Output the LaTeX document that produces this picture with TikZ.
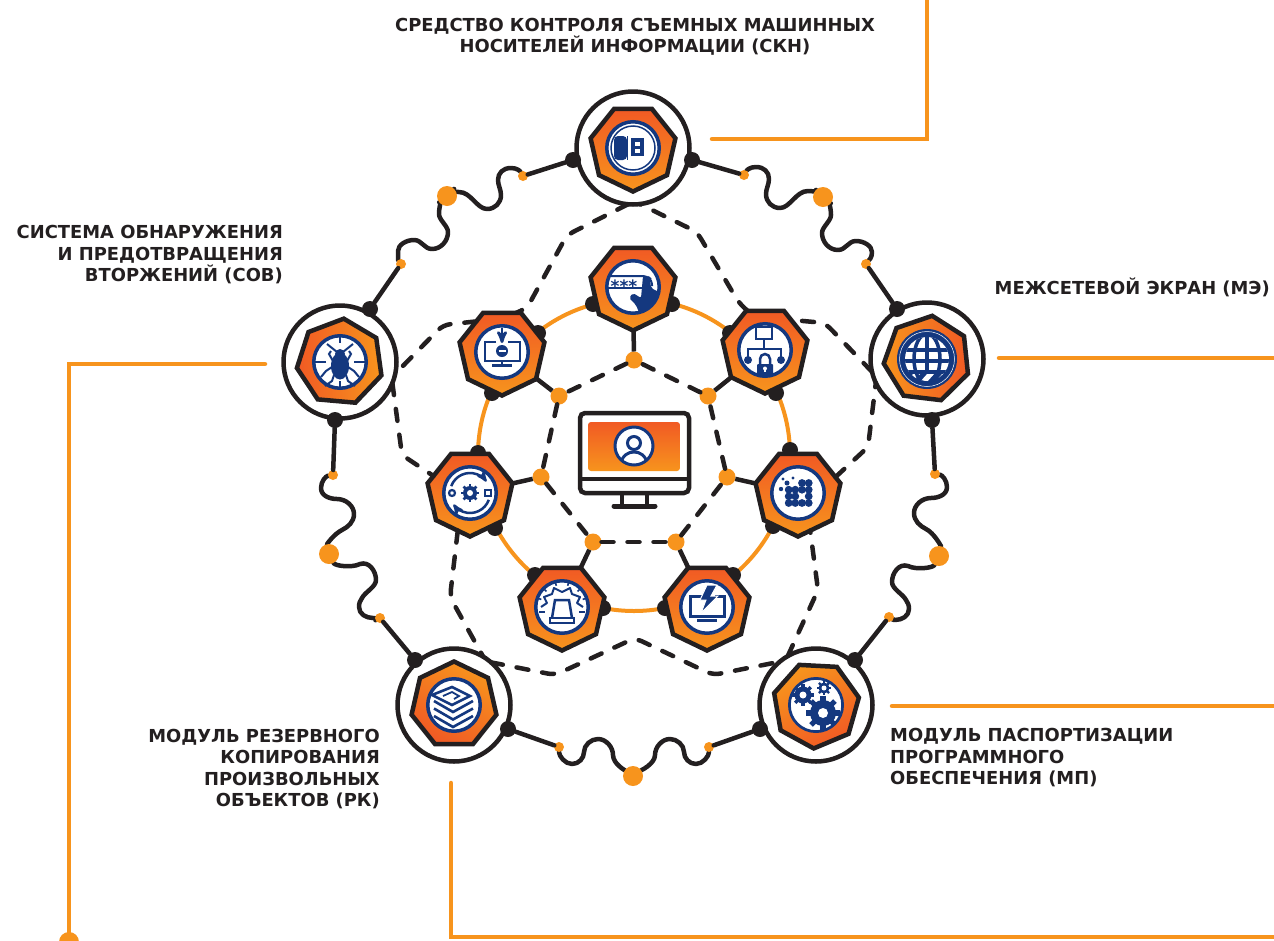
\documentclass[tikz,border=0pt]{standalone}
\usepackage{fontspec}
\setmainfont{DejaVu Sans}
\usetikzlibrary{arrows,backgrounds,shapes.geometric}
\definecolor{ink}{HTML}{231F20}
\definecolor{hot}{HTML}{F15A24}
\definecolor{soft}{HTML}{F7941D}
\definecolor{iconblue}{HTML}{14387F}
\newcommand{\cogwheel}[4]{
  \begin{scope}[shift={(#1,#2)}]
    \fill[iconblue] (0,0) circle[radius=#3];
    \foreach \a in {0,45,...,315}
      \draw[iconblue,line width=#3*0.4pt] (\a:#3*0.8) -- (\a:#3*1.3);
    \fill[white] (0,0) circle[radius=#4];
  \end{scope}
}
% wavy pieces of the outer ring: start, end, side
\newcommand{\waveup}[3]{\draw[wave,xscale=#3] (#1)
  .. controls +(3,-5) and +(-6,0) .. ++(12,-8)
  .. controls +(8,0) and +(0,-7) .. ++(13,12)
  .. controls +(0,5) and +(0,-5) .. ++(-3,15)
  .. controls +(0,8) and +(-8,0) .. ++(14,14)
  .. controls +(10,0) and +(-12,0) .. ++(28,-17)
  .. controls +(6,0) and +(-4,-4) .. (#2);}
\newcommand{\waveover}[3]{\draw[wave,xscale=#3] (#1)
  .. controls +(5,4) and +(0,-8) .. ++(8,18)
  .. controls +(0,6) and +(0,-6) .. ++(-9,18)
  .. controls +(0,9) and +(-9,0) .. ++(16,17)
  .. controls +(8,0) and +(-8,0) .. ++(18,-9)
  .. controls +(8,0) and +(0,-6) .. ++(16,11)
  .. controls +(0,6) and +(3,-4) .. (#2);}
\newcommand{\wavedown}[3]{\draw[wave,xscale=#3] (#1)
  .. controls +(7,1) and +(0,-7) .. ++(12,13)
  .. controls +(0,8) and +(7,0) .. ++(-16,11)
  .. controls +(-9,0) and +(0,-8) .. ++(-17,15)
  .. controls +(0,8) and +(-6,-3) .. ++(12,16)
  .. controls +(8,4) and +(2,-10) .. (#2);}
\newcommand{\waveunder}[3]{\draw[wave,xscale=#3] (#1)
  .. controls +(-6,12) and +(8,4) .. ++(-31,10)
  .. controls +(-9,-3) and +(0,-9) .. ++(-16,16)
  .. controls +(0,7) and +(-3,-6) .. ++(14,18)
  .. controls +(2,3) and +(0,-4) .. ++(3,9)
  .. controls +(0,7) and +(7,0) .. ++(-14,11)
  .. controls +(-3,0) and +(2,1) .. (#2);}
\newcommand{\wavefoot}[3]{\draw[wave,xscale=#3] (#1)
  .. controls +(0,9) and +(-7,0) .. ++(13,17)
  .. controls +(7,0) and +(0,6) .. ++(12,-12)
  .. controls +(0,-7) and +(-7,0) .. ++(14,-13)
  .. controls +(8,0) and +(0,-8) .. ++(15,16)
  .. controls +(0,9) and +(-7,-5) .. (#2);}
\begin{document}
\begin{tikzpicture}[x=1pt,y=-1pt,>=stealth',
    leader/.style={draw=soft,line width=4.5pt,line cap=round,line join=miter},
    wire/.style={draw=ink,line width=4.5pt,line cap=round},
    wave/.style={wire,line join=round},
    dashline/.style={draw=ink,line width=4.5pt,line cap=round,dash pattern=on 12pt off 14pt,rounded corners=7pt},
    stub/.style={draw=ink,line width=4.5pt},
    hept/.style={regular polygon,regular polygon sides=7,minimum size=87pt,inner sep=0pt,outer sep=0pt,draw=ink,line width=4.5pt,top color=hot,bottom color=soft},
    disc/.style={circle,minimum size=52.5pt,inner sep=0pt,outer sep=0pt,draw=iconblue,line width=3.5pt,fill=white},
    outer/.style={circle,minimum size=113pt,inner sep=0pt,outer sep=0pt,draw=ink,line width=4.5pt,fill=white},
    blob/.style={circle,minimum size=16pt,inner sep=0pt,fill=ink},
    smalldot/.style={circle,minimum size=10pt,inner sep=0pt,outer sep=0pt,fill=soft},
    middot/.style={circle,minimum size=17pt,inner sep=0pt,outer sep=0pt,fill=soft},
    bigdot/.style={circle,minimum size=20pt,inner sep=0pt,outer sep=0pt,fill=soft},
    caption/.style={font=\fontsize{17.9}{21.5}\selectfont\bfseries,text=ink,inner sep=0pt}]
  \useasboundingbox (0,0) rectangle (1274,940);
  \clip (0,0) rectangle (1274,940);

  \node[circle,minimum size=312pt,draw=soft,line width=4pt] (ring) at (634,455) {};
  \foreach \b/\x/\y in {b1/593/304,b2/672/304,b3/538/333,b4/492/393,b5/478/453,b6/495/528,b7/535/575,
      b8/603/608,b9/665/608,b10/733/575,b11/773/526,b12/790/450,b13/730/333,b14/776/393}
    \node[blob] (\b) at (\x,\y) {};

  \foreach \name/\x/\y in {pass/633/287,down/502/352,gear/470/493,alarm/562/607,bolt/707/607,data/798/493,fw/765/350}{
    \node[hept,shape border rotate=180] (\name) at (\x,\y) {};
    \node[disc] (\name disc) at (\x,\y) {};
  }
  \foreach \name/\x/\y/\rot/\shade in {skn/633/148/180/0,me/927/359/96/-90,mp/816/705/177/-150,pk/454/705/0/150,sov/340/362/-5/90}{
    \node[outer] (\name) at (\x,\y) {};
    \node[hept,shape border rotate=\rot,shading angle=\shade] (\name hept) at (\x,\y) {};
    \node[disc] (\name disc) at (\x,\y) {};
  }

  \foreach \d/\x/\y in {d1/634/360,d2/559/396,d3/541/477,d4/593/542,d5/676/542,d6/727/477,d7/708/396}
    \node[middot] (\d) at (\x,\y) {};
  \foreach \a/\b in {pass/d1,down/d2,gear/d3,alarm/d4,bolt/d5,data/d6,fw/d7}
    \draw[stub] (\a) -- (\b);
  \foreach \a/\b in {d1/d2,d2/d3,d3/d4,d4/d5,d5/d6,d6/d7,d7/d1}
    \draw[dashline] (\a) -- (\b);

  \draw[dashline] (skn.265) -- (567,235) -- (527,308) -- (down.70);
  \draw[dashline] (down.130) -- (443,325) -- (sov.-12);
  \draw[dashline] (sov.-22) -- (402,455) -- (gear.155);
  \draw[dashline] (gear.-108) -- (450,597) -- (pk.59);
  \draw[dashline] (pk.49) -- (555,675) -- (635,638) -- (713,675) -- (mp.130);
  \draw[dashline] (mp.120) -- (818,590) -- (data.-72);
  \draw[dashline] (data.23) -- (868,447) -- (me.205);
  \draw[dashline] (me.193) -- (825,323) -- (fw.49);
  \draw[dashline] (fw.114) -- (739,303) -- (697,232) -- (skn.-83);

  % outer ring
  \foreach \b/\x/\y in {o1/573/160,o2/692/160,o3/897/309,o4/932/420,o5/855/660,o6/760/729,o7/508/729,o8/415/660,o9/335/420,o10/370/309}
    \node[blob] (\b) at (\x,\y) {};
  \foreach \d/\x/\y in {s1/744/175,s2/866/264,s3/935/474,s4/889/617,s5/709/747,s6/559/747,s7/380/618,s8/333/475,s9/401/264,s10/523/176}
    \node[smalldot] (\d) at (\x,\y) {};
  \foreach \d/\x/\y in {l1/823/197,l2/939/556,l3/633/776,l4/329/554,l5/447/196}
    \node[bigdot] (\d) at (\x,\y) {};
  \foreach \a/\b in {o2/s1,o3/s2,o4/s3,o5/s4,o6/s5,o7/s6,o8/s7,o9/s8,o10/s9,o1/s10}
    \draw[wire] (\a) -- (\b);
  \begin{scope}[on background layer]
    \waveup{s1}{l1}{1}
    \waveover{l1}{s2}{1}
    \waveup{s10}{l5}{-1}
    \waveover{l5}{s9}{-1}
    \wavedown{s3}{l2}{1}
    \waveunder{l2}{s4}{1}
    \wavedown{s8}{l4}{-1}
    \waveunder{l4}{s7}{-1}
    \wavefoot{s6}{l3}{1}
    \wavefoot{s5}{l3}{-1}
  \end{scope}

  % leaders
  \foreach \c/\x/\y in {lskn/712/139,eskn/927/0,lme/999/358,eme/1274/358,lmp/892/706,emp/1274/706,lpk/451/783,epk/1274/937,lsov/265/364,esov/69/942}
    \coordinate (\c) at (\x,\y);
  \draw[leader] (lskn) -| (eskn);
  \draw[leader] (lme) -- (eme);
  \draw[leader] (lmp) -- (emp);
  \draw[leader] (lpk) |- (epk);
  \draw[leader] (lsov) -| (esov);
  \node[bigdot] (esovdot) at (esov) {};

  % captions
  \node[caption,align=center] (cskn) at (635,37) {СРЕДСТВО КОНТРОЛЯ СЪЕМНЫХ МАШИННЫХ\\НОСИТЕЛЕЙ ИНФОРМАЦИИ (СКН)};
  \node[caption,align=right,anchor=east] (csov) at (283,255) {СИСТЕМА ОБНАРУЖЕНИЯ\\И ПРЕДОТВРАЩЕНИЯ\\ВТОРЖЕНИЙ (СОВ)};
  \node[caption,anchor=east] (cme) at (1270,287) {МЕЖСЕТЕВОЙ ЭКРАН (МЭ)};
  \node[caption,align=right,anchor=east] (cpk) at (380,769) {МОДУЛЬ РЕЗЕРВНОГО\\КОПИРОВАНИЯ\\ПРОИЗВОЛЬНЫХ\\ОБЪЕКТОВ (РК)};
  \node[caption,align=left,anchor=west] (cmp) at (890,758) {МОДУЛЬ ПАСПОРТИЗАЦИИ\\ПРОГРАММНОГО\\ОБЕСПЕЧЕНИЯ (МП)};

  % monitor
  \draw[ink,line width=4.5pt,rounded corners=5pt] (580,413) rectangle (689,493);
  \draw[ink,line width=4.5pt] (580,479) -- (689,479);
  \shade[top color=hot,bottom color=soft,rounded corners=3pt] (588,422) rectangle (680,471);
  \draw[ink,line width=4.5pt] (622,493) -- (622,506) (647,493) -- (647,506);
  \draw[ink,line width=5pt,line cap=round] (614,506) -- (655,506);
  \begin{scope}[shift={(634,446)}]
    \fill[white] (0,0) circle[radius=19];
    \clip (0,0) circle[radius=19];
    \draw[iconblue,line width=3pt] (0,-3) circle[radius=6.5];
    \draw[iconblue,line width=3pt] (-14,20) .. controls (-12,9) and (-6,6) .. (0,6) .. controls (6,6) and (12,9) .. (14,20);
  \end{scope}
  \draw[iconblue,line width=3pt] (634,446) circle[radius=19];

  % icons
  \begin{scope}[shift={(633,148)},iconblue]
    \draw[line width=1.5pt] (0,0) circle[radius=22];
    \fill[rounded corners=4pt] (-19,-12) rectangle (-6,12);
    \fill (-6,-12) rectangle (-5,12);
    \fill (-2,-10) rectangle (11,8);
    \fill[white] (2,-6) rectangle (7,-2);
    \fill[white] (2,1) rectangle (7,5);
  \end{scope}

  \begin{scope}[shift={(633,288)},iconblue]
    \clip (0,0) circle[radius=26];
    \draw[line width=2pt,rounded corners=5pt] (-26,-12) -- (14,-12) -- (19,-8) -- (19,-2);
    \draw[line width=2pt] (-26,0) -- (12,0);
    \node[iconblue,font=\fontsize{17}{17}\selectfont\bfseries,inner sep=0pt] (stars) at (-9,-2) {***};
    \fill[rounded corners=2pt] (10,-12) -- (17,-10) -- (18,0) -- (28,5) -- (30,17) -- (20,29) -- (7,27) -- (3,17) -- (-4,10) -- (0,5) -- (8,10) -- cycle;
  \end{scope}

  \begin{scope}[shift={(502,352)},iconblue]
    \draw[line width=2.8pt] (-6,-10) -- (-17,-10) -- (-17,9) -- (18,9) -- (18,-10) -- (6,-10);
    \draw[line width=2.8pt,->] (0,-24) -- (0,-9);
    \fill (0,-1) circle[radius=6];
    \draw[white,line width=1.5pt] (-3.5,-1) -- (3.5,-1);
    \draw[line width=3pt] (-10,13) -- (10,13);
    \draw[line width=2.5pt] (0,9) -- (0,13);
  \end{scope}

  \begin{scope}[shift={(470,493)},iconblue]
    \cogwheel{0}{0}{7}{3}
    \draw[line width=2.2pt] (-18,0) circle[radius=3];
    \draw[line width=2.2pt] (15,-3) rectangle (21,3);
    \draw[line width=2.5pt,->] (200:20) arc[start angle=200,end angle=325,radius=20];
    \draw[line width=2.5pt,->] (20:20) arc[start angle=20,end angle=145,radius=20];
  \end{scope}

  \begin{scope}[shift={(562,607)},iconblue]
    \draw[line width=2.5pt] (-10,11) -- (-7,-7) -- (7,-7) -- (10,11);
    \draw[line width=2.2pt,fill=white] (-12,11) rectangle (12,16);
    \draw[line width=2pt,line join=round] (-21,0) -- (-15,-4) -- (-18,-10) -- (-10,-13) -- (-8,-19) -- (0,-15) -- (8,-19) -- (10,-13) -- (18,-10) -- (15,-4) -- (21,0);
    \foreach \a in {200,225,255,285,315,340}
      \draw[line width=1.6pt] (\a:22) -- (\a:25);
    \draw[line width=1.6pt] (-23,5) -- (-17,5) (17,5) -- (23,5);
  \end{scope}

  \begin{scope}[shift={(707,607)},iconblue]
    \draw[line width=3pt] (-17,-11) rectangle (17,9);
    \draw[line width=3pt] (-10,13) -- (10,13);
    \fill[white] (-2,-13) rectangle (8,-9);
    \fill[draw=white,line width=1pt] (0,-22) -- (10,-22) -- (4,-11) -- (11,-11) -- (-6,6) -- (-1,-7) -- (-7,-7) -- cycle;
  \end{scope}

  \begin{scope}[shift={(798,493)},iconblue]
    \foreach \x/\y in {4/-10,10.7/-10,4/-3.3,10.7/-3.3,-9.3/3.3,-2.7/3.3,10.7/3.3,-9.3/10,-2.7/10,4/10,10.7/10,-9.3/-3.3,-2.7/-3.3}
      \fill (\x,\y) circle[radius=3.9];
    \fill (-15,-14) circle[radius=1.6];
    \fill (-5,-15) circle[radius=1.6];
    \fill (-11,-10) circle[radius=2.5];
    \fill (-17,-4) circle[radius=2.2];
  \end{scope}

  \begin{scope}[shift={(765,350)},iconblue]
    \draw[line width=2.5pt] (-9,-23) rectangle (7,-11);
    \draw[line width=2.5pt] (-1,-11) -- (-1,-1);
    \draw[line width=2.5pt] (-17,10) -- (-17,-1) -- (16,-1) -- (16,10);
    \fill (-17,10) circle[radius=4];
    \fill (16,10) circle[radius=4];
    \draw[line width=2.5pt] (-5,14) -- (-5,9) arc[start angle=180,end angle=360,radius=5] -- (5,14);
    \fill[rounded corners=1pt] (-8,14) rectangle (8,25);
    \fill[white] (0,18.5) circle[radius=2];
    \fill[white] (-1,18.5) rectangle (1,22);
  \end{scope}

  \begin{scope}[shift={(340,362)},iconblue]
    \foreach \s in {-1,1}{
      \begin{scope}[xscale=\s]
        \draw[line width=2pt] (0,-26) -- (0,-19);
        \draw[line width=2pt] (14,0) -- (26,0);
        \draw[line width=2pt] (3,-10) -- (13,-18);
        \draw[line width=2pt] (7,-1) -- (11,-8) -- (9,-11);
        \draw[line width=2pt] (8,5) -- (14,9) -- (19,15);
        \draw[line width=2pt] (6,13) -- (8,19) -- (15,24);
      \end{scope}
    }
    \draw[line width=2pt] (0,19) -- (0,26);
    \fill (0,-8) circle[radius=5];
    \fill (0,4) ellipse[x radius=9,y radius=13.5];
  \end{scope}

  \begin{scope}[shift={(927,359)}]
    \fill[iconblue] (0,0) circle[radius=30];
    \draw[white,line width=.5pt] (0,0) circle[radius=27.5];
    \clip (0,0) circle[radius=22];
    \fill[white] (-23,-23) rectangle (23,13);
    \fill[white] \foreach \k in {-16,-2,13} {(\k+3,14) -- (\k+10,14) -- (\k+1,24) -- (\k-6,24) -- cycle};
    \draw[iconblue,line width=3.5pt] (0,-24) -- (0,13);
    \draw[iconblue,line width=3.5pt] (0,0) ellipse[x radius=13,y radius=25];
    \draw[iconblue,line width=3.5pt] (-24,-9) -- (24,-9) (-24,2) -- (24,2) (-24,13) -- (24,13);
  \end{scope}

  \begin{scope}[shift={(454,705)},iconblue,line width=2.6pt,line join=miter]
    \draw (-22,-10) -- (-2,-18) -- (16,-9) -- (-2,0) -- cycle;
    \draw[line width=1.8pt] (-11,-9) -- (-2,-13) -- (5,-9) -- (0,-6);
    \foreach \a in {7,14.5,22}
      \draw (-20,\a-11) -- (-1,\a) -- (19,\a-11);
  \end{scope}

  \begin{scope}[shift={(816,705)}]
    \node[disc,line width=2pt] (mpicon) at (0,0) {};
    \cogwheel{7}{8}{13}{5}
    \cogwheel{-13}{-10}{8.5}{3.5}
    \cogwheel{8}{-17}{5.5}{2.5}
  \end{scope}
\end{tikzpicture}
\end{document}
